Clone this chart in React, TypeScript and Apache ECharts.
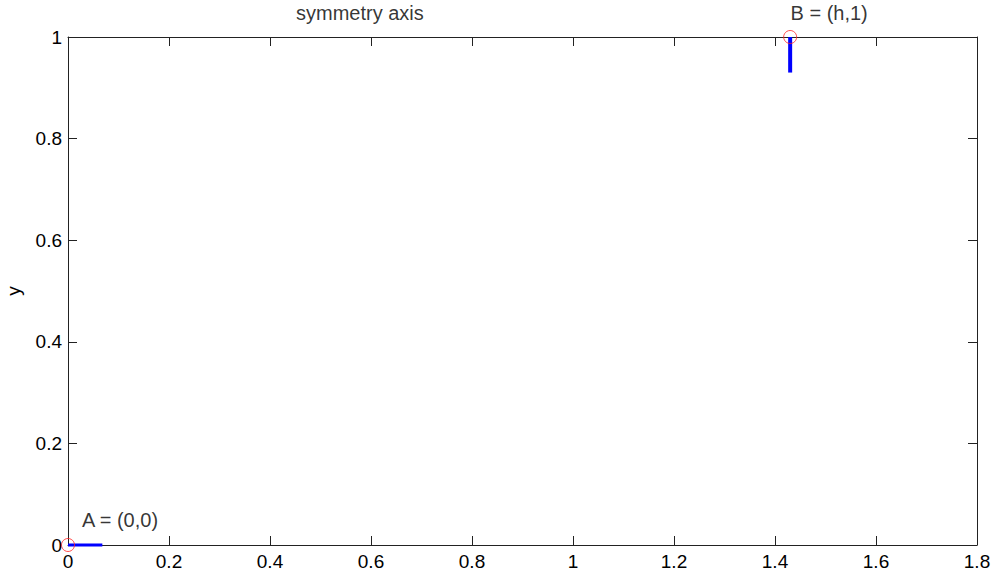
import React, { useEffect, useRef } from "react";
import * as echarts from "echarts";

const xTicks = { min: 0, max: 1.8, interval: 0.2 };
const yTicks = { min: 0, max: 1, interval: 0.2 };
const pointNames = ["A = (0,0)", "B = (h,1)"];
const pointX = [0, 1.43];
const pointY = [0, 1];
const segA = [[0, 0], [0.068, 0]];
const segB = [[1.43, 1], [1.43, 0.93]];
const noteText = "symmetry axis";
const noteX = [0.578];
const noteY = [1];

const FONT = "Liberation Sans, Arial, Helvetica, sans-serif";
const AX = "#222";
const FS = 19;
const FS_NOTE = 20;

export default function App() {
  const ref = useRef<HTMLDivElement>(null);
  useEffect(() => {
    const chart = echarts.init(ref.current!, null, { renderer: "svg" });
    const fmt = (v: number) => String(+v.toFixed(1));
    const baseX = {
      type: "value" as const,
      ...xTicks,
      splitLine: { show: false },
      axisLine: { show: true, onZero: false, lineStyle: { color: AX, width: 1 } },
      axisTick: { show: true, inside: true, length: 9, lineStyle: { color: AX } },
    };
    const baseY = {
      type: "value" as const,
      ...yTicks,
      splitLine: { show: false },
      axisLine: { show: true, onZero: false, lineStyle: { color: AX, width: 1 } },
      axisTick: { show: true, inside: true, length: 9, lineStyle: { color: AX } },
    };
    const labelOffsets = [[52, -25], [39, -24]];
    const noteStyle = {
      color: "#000",
      fontSize: FS_NOTE,
      fontFamily: FONT,
      textBorderWidth: 0,
      textBorderColor: "transparent",
    };
    chart.setOption({
      animation: false,
      grid: { left: 68, right: 18, top: 37, bottom: 33, containLabel: false, outerBoundsMode: "none" },
      xAxis: [
        {
          ...baseX,
          position: "bottom",
          axisLabel: { color: "#000", fontSize: FS, fontFamily: FONT, margin: 7, formatter: fmt },
        },
        { ...baseX, position: "top", axisLabel: { show: false } },
      ],
      yAxis: [
        {
          ...baseY,
          position: "left",
          name: "y",
          nameLocation: "middle",
          nameGap: 45,
          nameTextStyle: { color: "#000", fontSize: FS, fontFamily: FONT },
          axisLabel: { color: "#000", fontSize: FS, fontFamily: FONT, margin: 6, formatter: fmt },
        },
        { ...baseY, position: "right", axisLabel: { show: false } },
      ],
      series: [
        {
          type: "line",
          data: segA,
          symbol: "none",
          lineStyle: { color: "#0000ff", width: 3 },
          clip: false,
          z: 3,
        },
        {
          type: "line",
          data: segB,
          symbol: "none",
          lineStyle: { color: "#0000ff", width: 4 },
          clip: false,
          z: 3,
        },
        {
          type: "scatter",
          data: pointX.map((x, i) => ({
            value: [x, pointY[i]],
            label: {
              show: true,
              formatter: pointNames[i],
              position: "inside",
              offset: labelOffsets[i],
              ...noteStyle,
            },
          })),
          symbol: "circle",
          symbolSize: 13,
          itemStyle: { color: "rgba(0,0,0,0)", borderColor: "#ff2020", borderWidth: 1 },
          clip: false,
          z: 4,
        },
        {
          type: "scatter",
          data: noteX.map((x, i) => [x, noteY[i]]),
          symbolSize: 0,
          label: {
            show: true,
            formatter: noteText,
            position: "inside",
            offset: [0, -24],
            ...noteStyle,
          },
          clip: false,
          silent: true,
        },
      ],
    });
    return () => chart.dispose();
  }, []);
  return <div ref={ref} style={{ width: 995, height: 578, position: "absolute", left: 0, top: 0, background: "#fff" }} />;
}
